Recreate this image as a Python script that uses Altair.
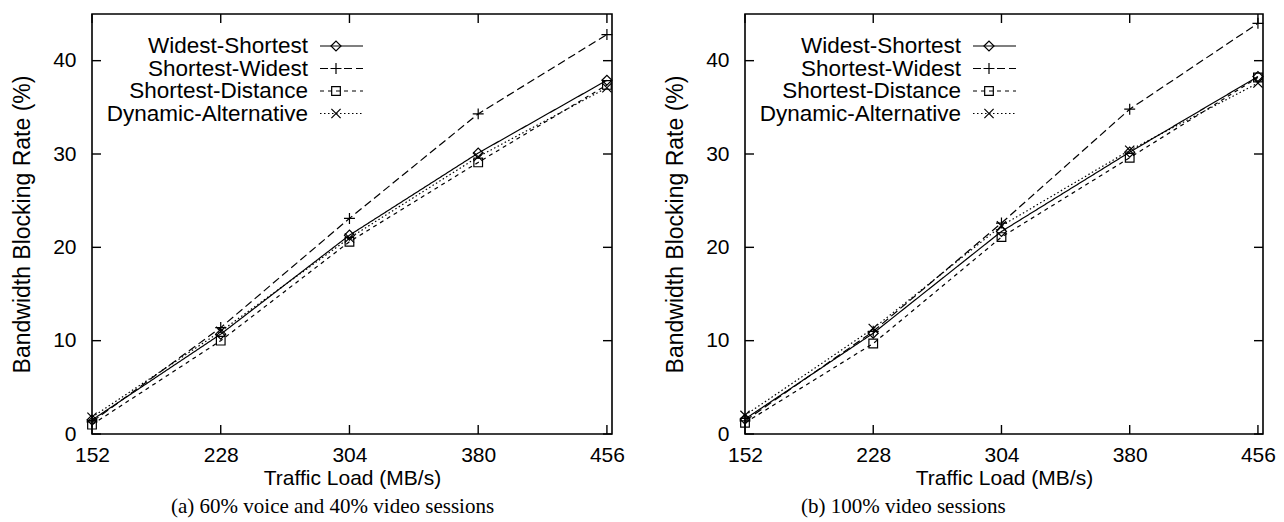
import altair as alt
import pandas as pd

# ---------------- data ----------------
loads = [152, 228, 304, 380, 456]
series_names = ["Widest-Shortest", "Shortest-Widest", "Shortest-Distance", "Dynamic-Alternative"]

# panel (a): 60% voice and 40% video sessions
a_widest_shortest = [1.5, 10.7, 21.3, 30.1, 37.9]
a_shortest_widest = [1.3, 11.4, 23.1, 34.3, 42.8]
a_shortest_distance = [1.0, 10.0, 20.6, 29.1, 37.4]
a_dynamic_alternative = [1.8, 11.0, 21.0, 29.7, 37.1]

# panel (b): 100% video sessions
b_widest_shortest = [1.6, 10.8, 21.7, 30.2, 38.3]
b_shortest_widest = [1.4, 11.0, 22.6, 34.8, 44.0]
b_shortest_distance = [1.2, 9.7, 21.1, 29.6, 38.2]
b_dynamic_alternative = [2.0, 11.3, 22.3, 30.4, 37.6]

x_ticks = [152, 228, 304, 380, 456]
y_ticks = [0, 10, 20, 30, 40]

caption_a = "(a) 60% voice and 40% video sessions"
caption_b = "(b) 100% video sessions"
x_title = "Traffic Load (MB/s)"
y_title = "Bandwidth Blocking Rate (%)"

# ---------------- styling ----------------
SANS = "Liberation Sans"
SERIF = "Liberation Serif"
H = 420
dashes = [[1, 0], [8, 4], [4, 4], [1.5, 2.5]]
plus_path = "M-1,0L1,0M0,-1L0,1"
x_path = "M-1,-1L1,1M-1,1L1,-1"
shapes = ["diamond", plus_path, "square", x_path]
shape_sizes = [100, 120, 75, 85]

xscale = alt.Scale(domain=[152, 459], nice=False, zero=False)
yscale = alt.Scale(domain=[0, 45], nice=False, zero=False)

xaxis = alt.Axis(values=x_ticks, title=x_title, ticks=False, domain=False, grid=False,
                 labelFlush=False, labelFont=SANS, labelFontSize=21, titleFont=SANS,
                 titleFontSize=21, titleFontWeight="normal", labelColor="black",
                 titleColor="black", labelPadding=10, titlePadding=2)
yaxis = alt.Axis(values=y_ticks, title=y_title, ticks=False, domain=False, grid=False,
                 labelFlush=False, labelFont=SANS, labelFontSize=21, titleFont=SANS,
                 titleFontSize=23, titleFontWeight="normal", labelColor="black",
                 titleColor="black", labelPadding=16, titlePadding=18)


def X():
    return alt.X("load:Q", scale=xscale, axis=xaxis)


def Y():
    return alt.Y("rate:Q", scale=yscale, axis=yaxis)


def make_panel(values, caption, cap_dx, width):
    rows = []
    for name, vals in zip(series_names, values):
        for x, v in zip(loads, vals):
            rows.append({"load": x, "rate": v, "series": name})
    df = pd.DataFrame(rows)

    lines = alt.Chart(df).mark_line(color="black", strokeWidth=1.2).encode(
        x=X(), y=Y(),
        strokeDash=alt.StrokeDash("series:N", scale=alt.Scale(domain=series_names, range=dashes),
                                  legend=None),
        detail="series:N",
    )
    pts_layers = []
    for name, shp, sz in zip(series_names, shapes, shape_sizes):
        pts_layers.append(
            alt.Chart(df[df["series"] == name]).mark_point(
                shape=shp, size=sz, filled=False, color="black", strokeWidth=1.2, opacity=1
            ).encode(x=X(), y=Y())
        )

    xt = pd.DataFrame({"load": x_ticks})
    yt = pd.DataFrame({"rate": y_ticks})
    tick_style = dict(color="black", strokeWidth=1.4)
    ticks = [
        alt.Chart(xt).mark_rule(**tick_style).encode(x=X(), y=alt.value(H), y2=alt.value(H - 9)),
        alt.Chart(xt).mark_rule(**tick_style).encode(x=X(), y=alt.value(0), y2=alt.value(9)),
        alt.Chart(yt).mark_rule(**tick_style).encode(y=Y(), x=alt.value(0), x2=alt.value(9)),
        alt.Chart(yt).mark_rule(**tick_style).encode(y=Y(), x=alt.value(width), x2=alt.value(width - 9)),
    ]

    legend_layers = []
    for i, (name, dsh, shp, sz) in enumerate(zip(series_names, dashes, shapes, shape_sizes)):
        ly = 32 + 22.5 * i
        one = pd.DataFrame({"series": [name]})
        legend_layers.append(
            alt.Chart(one).mark_text(align="right", baseline="middle", font=SANS, fontSize=22.5,
                                     color="black").encode(
                text="series:N", x=alt.value(216), y=alt.value(ly)))
        legend_layers.append(
            alt.Chart(one).mark_rule(color="black", strokeWidth=1.2, strokeDash=dsh).encode(
                x=alt.value(228), x2=alt.value(271), y=alt.value(ly)))
        legend_layers.append(
            alt.Chart(one).mark_point(shape=shp, size=sz, filled=False, color="black",
                                      strokeWidth=1.2, opacity=1).encode(
                x=alt.value(244), y=alt.value(ly)))

    return alt.layer(lines, *pts_layers, *ticks, *legend_layers).properties(
        width=width, height=H,
        title=alt.TitleParams(caption, orient="bottom", anchor="start", frame="group",
                              dx=cap_dx, offset=8, font=SERIF, fontSize=21,
                              fontWeight="normal", color="black"),
    )


panel_a = make_panel([a_widest_shortest, a_shortest_widest, a_shortest_distance, a_dynamic_alternative],
                     caption_a, 79, 520)
panel_b = make_panel([b_widest_shortest, b_shortest_widest, b_shortest_distance, b_dynamic_alternative],
                     caption_b, 56, 518)

chart = alt.hconcat(panel_a, panel_b, spacing=37).properties(
    padding={"left": 10, "top": 12, "right": 0, "bottom": 0},
    background="white",
).configure_view(stroke="black", strokeWidth=1.6)

chart.save("out.html", embed_options={"renderer": "svg", "actions": False})
